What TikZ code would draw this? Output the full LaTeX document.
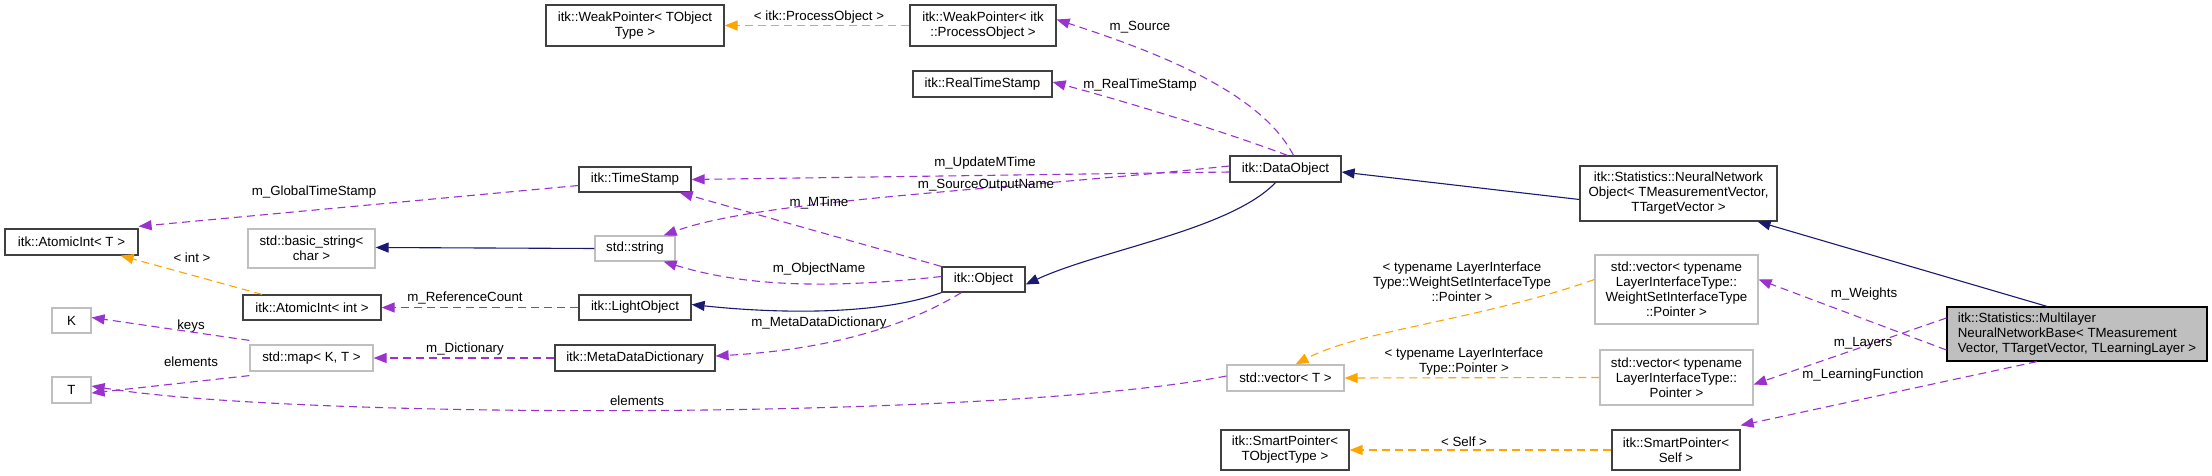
\documentclass[tikz,border=0pt]{standalone}
\usepackage{fontspec}
\setmainfont{Liberation Sans}
\usetikzlibrary{arrows.meta}
\definecolor{purp}{HTML}{9A32CD}
\definecolor{orng}{HTML}{FFA500}
\definecolor{navy}{HTML}{191970}
\definecolor{gbord}{HTML}{BFBFBF}
\begin{document}
\begin{tikzpicture}[x=1pt,y=-1pt,
  box/.style={draw=black!75,line width=1.2pt,inner sep=0pt,align=center,font=\fontsize{13.3}{15}\selectfont},
  gbox/.style={box,draw=gbord},
  lbl/.style={font=\fontsize{13.3}{15}\selectfont,inner sep=1pt,align=center},
  tip/.style={-{Triangle[length=13pt,width=10pt]}},
  mem/.style={tip,draw=purp,dash pattern=on 8pt off 5pt,line width=1.1pt},
  tmpl/.style={tip,draw=orng,dash pattern=on 8pt off 5pt,line width=1.1pt},
  inh/.style={tip,draw=navy,line width=1.1pt}]
\useasboundingbox (0,0) rectangle (2212,476);
\def\bx#1#2#3#4#5#6#7{\node[#2,minimum width=#5-#3,minimum height=#6-#4] (#1) at ({(#3+#5)/2},{(#4+#6)/2}) {#7};}
\bx{wpt}{box}{546}{5}{724}{46}{itk::WeakPointer< TObject\\Type >}
\bx{wpp}{box}{910}{5}{1056}{46}{itk::WeakPointer< itk\\::ProcessObject >}
\bx{rts}{box}{913}{71}{1052}{97}{itk::RealTimeStamp}
\bx{dob}{box}{1230}{156}{1341}{182}{itk::DataObject}
\bx{nno}{box}{1580}{166}{1777}{221}{itk::Statistics::NeuralNetwork\\Object< TMeasurementVector,\\TTargetVector >}
\bx{ts}{box}{579}{167}{691}{192}{itk::TimeStamp}
\bx{ait}{box}{5}{229}{138}{255}{itk::AtomicInt< T >}
\bx{bs}{gbox}{248}{229}{375}{268}{std::basic\_string<\\char >}
\bx{str}{gbox}{595}{236}{675}{261}{std::string}
\bx{obj}{box}{942}{267}{1025}{292}{itk::Object}
\bx{aii}{box}{243}{295}{381}{320}{itk::AtomicInt< int >}
\bx{lo}{box}{579}{295}{691}{320}{itk::LightObject}
\bx{K}{gbox}{52}{308}{91}{333}{K}
\bx{map}{gbox}{250}{345}{373}{371}{std::map< K, T >}
\bx{mdd}{box}{555}{345}{715}{371}{itk::MetaDataDictionary}
\bx{T}{gbox}{52}{377}{91}{403}{T}
\bx{vt}{gbox}{1227}{365}{1344}{391}{std::vector< T >}
\bx{spt}{box}{1221}{430}{1349}{470}{itk::SmartPointer<\\TObjectType >}
\bx{vw}{gbox}{1595}{255}{1758}{324}{std::vector< typename\\LayerInterfaceType::\\WeightSetInterfaceType\\::Pointer >}
\bx{vp}{gbox}{1600}{350}{1753}{405}{std::vector< typename\\LayerInterfaceType::\\Pointer >}
\bx{sps}{box}{1612}{430}{1740}{470}{itk::SmartPointer<\\Self >}
\node[box,fill=gbord,draw=black,minimum width=260,minimum height=54,align=left] (mlb) at (2077,334) {itk::Statistics::Multilayer\\NeuralNetworkBase< TMeasurement\\Vector, TTargetVector, TLearningLayer >};

\draw[tmpl] (wpp.west) -- (wpt.east);
\node[lbl] (l1) at (819,17) {< itk::ProcessObject >};
\draw[mem] ([xshift=8pt]dob.north) .. controls (1260,90) and (1150,50) .. ([yshift=6pt]wpp.east);
\node[lbl] (l2) at (1140,27) {m\_Source};
\draw[mem] ([xshift=2pt]dob.north) .. controls (1220,130) and (1120,100) .. ([yshift=2pt]rts.east);
\node[lbl] (l3) at (1140,85) {m\_RealTimeStamp};
\draw[mem] ([yshift=-3pt]dob.west) -- (ts.east);
\node[lbl] (l4) at (985,163) {m\_UpdateMTime};
\draw[mem] ([yshift=3pt]dob.west) .. controls (1000,190) and (760,200) .. ([xshift=-12pt]str.north east);
\node[lbl] (l5) at (986,185) {m\_SourceOutputName};
\draw[mem] (obj.north west) -- ([xshift=-12pt]ts.south east);
\node[lbl] (l6) at (819,203) {m\_MTime};
\draw[mem] ([yshift=3pt]obj.west) .. controls (820,290) and (740,285) .. ([xshift=-12pt]str.south east);
\node[lbl] (l7) at (819,269) {m\_ObjectName};
\draw[inh] ([xshift=-10pt]dob.south) .. controls (1230,230) and (1100,250) .. ([yshift=-5pt]obj.east);
\draw[mem] (lo.west) -- (aii.east);
\node[lbl] (l8) at (465,298) {m\_ReferenceCount};
\draw[inh] (obj.south west) .. controls (880,315) and (780,314) .. ([yshift=3pt]lo.east);
\draw[mem] ([xshift=20pt]obj.south west) .. controls (900,330) and (820,350) .. ([yshift=2pt]mdd.east);
\node[lbl] (l9) at (819,323) {m\_MetaDataDictionary};
\draw[mem] (mdd.west) -- (map.east);
\node[lbl] (l10) at (465,349) {m\_Dictionary};
\draw[mem] ([yshift=4pt]map.north west) -- ([yshift=3pt]K.east);
\node[lbl] (l11) at (191,326) {keys};
\draw[mem] ([yshift=-4pt]map.south west) -- ([yshift=-3pt]T.east);
\node[lbl] (l12) at (191,362) {elements};
\draw[mem] ([yshift=2pt]vt.west) .. controls (1000,420) and (300,420) .. ([yshift=4pt]T.east);
\node[lbl] (l13) at (637,401) {elements};
\draw[tmpl] ([xshift=-50pt]aii.north) -- ([xshift=-18pt]ait.south east);
\node[lbl] (l14) at (192,258) {< int >};
\draw[mem] ([yshift=-6pt]ts.west) -- ([yshift=2pt]ait.north east);
\node[lbl] (l15) at (314,192) {m\_GlobalTimeStamp};
\draw[inh] (str.west) -- ([yshift=1pt]bs.east);
\draw[inh] ([yshift=-6pt]nno.west) -- ([yshift=-3pt]dob.east);
\draw[inh] ([xshift=-30pt]mlb.north) -- ([xshift=-20pt]nno.south east);
\draw[mem] ([yshift=-16pt]mlb.west) -- ([yshift=10pt]vw.east);
\node[lbl] (l16) at (1864,294) {m\_Weights};
\draw[mem] ([yshift=16pt]mlb.west) -- ([yshift=-7pt]vp.east);
\node[lbl] (l17) at (1863,343) {m\_Layers};
\draw[mem] ([xshift=-40pt]mlb.south) -- ([yshift=4pt]sps.north east);
\node[lbl] (l18) at (1863,375) {m\_LearningFunction};
\draw[tmpl] ([yshift=10pt]vw.west) .. controls (1480,320) and (1360,330) .. ([xshift=10pt]vt.north);
\node[lbl] (l19) at (1462,282) {< typename LayerInterface\\Type::WeightSetInterfaceType\\::Pointer >};
\draw[tmpl] ([yshift=0pt]vp.west) -- (vt.east);
\node[lbl] (l20) at (1464,362) {< typename LayerInterface\\Type::Pointer >};
\draw[tmpl] (sps.west) -- (spt.east);
\node[lbl] (l21) at (1464,442) {< Self >};
\end{tikzpicture}
\end{document}
